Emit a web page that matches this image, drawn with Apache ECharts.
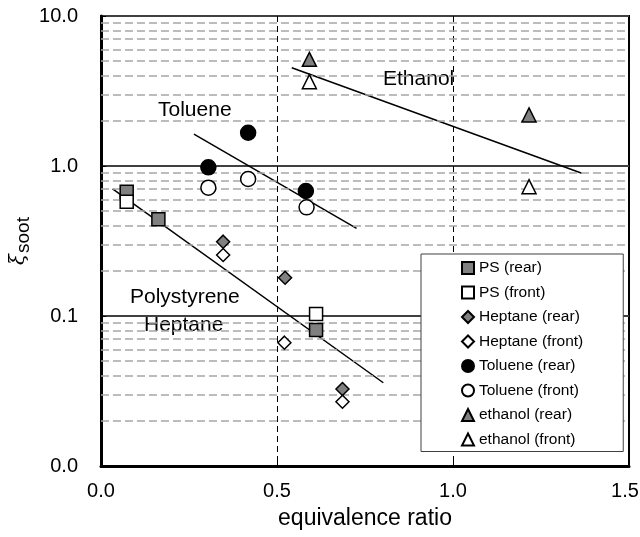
<!DOCTYPE html>
<html lang="en">
<head>
<meta charset="UTF-8">
<title>soot vs equivalence ratio</title>
<script src="https://cdn.jsdelivr.net/npm/echarts@6/dist/echarts.min.js"></script>
<style>
    html, body { margin: 0; padding: 0; background: #fff; }
    #main { width: 640px; height: 537px; }
</style>
</head>
<body>
<div id="main"></div>
<script>
    // measured points [equivalence ratio, xi_soot]
    var psRear = [[0.073, 0.674], [0.163, 0.441], [0.611, 0.0807]];
    var psFront = [[0.073, 0.578], [0.611, 0.103]];
    var heptaneRear = [[0.347, 0.313], [0.523, 0.180], [0.686, 0.0326]];
    var heptaneFront = [[0.347, 0.255], [0.521, 0.0664], [0.686, 0.0268]];
    var tolueneRear = [[0.305, 0.98], [0.418, 1.667], [0.582, 0.681]];
    var tolueneFront = [[0.305, 0.717], [0.418, 0.819], [0.584, 0.530]];
    var ethanolRear = [[0.592, 5.14], [1.216, 2.19]];
    var ethanolFront = [[0.592, 3.65], [1.216, 0.728]];

    // trend lines (end points)
    var fitPsHeptane = [[0.033, 0.703], [0.802, 0.0359]];
    var fitToluene = [[0.264, 1.63], [0.726, 0.384]];
    var fitEthanol = [[0.542, 4.52], [1.366, 0.894]];

    // minor grid lines of the log axis
    var minorLines = [0.02, 0.03, 0.04, 0.05, 0.06, 0.07, 0.08, 0.09,
                      0.2, 0.3, 0.4, 0.5, 0.6, 0.7, 0.8, 0.9,
                      2, 3, 4, 5, 6, 7, 8, 9];

    var FONT = 'Liberation Sans, Arial, sans-serif';
    var GRAY = '#808080';

    function scatter(name, data, symbol, size, fill) {
        return {
            name: name,
            type: 'scatter',
            data: data,
            symbol: symbol,
            symbolSize: size,
            itemStyle: { color: fill, borderColor: '#000', borderWidth: 1.5, opacity: 1 },
            z: 5
        };
    }

    function fit(data) {
        return {
            type: 'line',
            data: data,
            symbol: 'none',
            silent: true,
            lineStyle: { color: '#000', width: 1.5 },
            z: 3
        };
    }

    var minorSeries = fit(fitPsHeptane);
    minorSeries.markLine = {
        silent: true,
        symbol: ['none', 'none'],
        label: { show: false },
        animation: false,
        lineStyle: { color: '#a6a6a6', width: 1.5, type: [8, 4] },
        data: minorLines.map(function (v) { return { yAxis: v }; })
    };

    var myChart = echarts.init(document.getElementById('main'));
    var option = {
        animation: false,
        grid: {
            left: 101, top: 16, width: 528, height: 450,
            outerBoundsMode: 'none',
            containLabel: false,
            show: true, borderColor: '#000', borderWidth: 2
        },
        xAxis: {
            type: 'value',
            min: 0, max: 1.5, interval: 0.5,
            name: 'equivalence ratio',
            nameLocation: 'middle',
            nameGap: 41,
            nameMoveOverlap: false,
            nameTextStyle: { fontFamily: FONT, fontSize: 23, color: '#000' },
            axisLine: { show: true, lineStyle: { color: '#000', width: 3 } },
            axisTick: { show: true, inside: true, length: 5, lineStyle: { color: '#000', width: 1 } },
            axisLabel: {
                margin: 15, fontFamily: FONT, fontSize: 20, color: '#000',
                formatter: function (v) {
                    return v >= 1.5 ? '{r|' + v.toFixed(1) + '}' : v.toFixed(1);
                },
                rich: { r: { fontFamily: FONT, fontSize: 20, color: '#000', padding: [0, 8, 0, 0] } }
            },
            splitLine: { show: true, lineStyle: { color: '#000', width: 1, type: [6, 4] } }
        },
        yAxis: {
            type: 'log',
            logBase: 10,
            min: 0.01, max: 10,
            name: '{xi|ξ}{sub|soot}',
            nameLocation: 'middle',
            nameGap: 68,
            nameMoveOverlap: false,
            nameTextStyle: {
                fontFamily: FONT, color: '#000',
                rich: {
                    xi: { fontFamily: 'DejaVu Serif', fontSize: 20, fontStyle: 'italic', color: '#000' },
                    sub: { fontFamily: FONT, fontSize: 19, color: '#000', padding: [10, 0, 0, 1] }
                }
            },
            axisLine: { show: true, lineStyle: { color: '#000', width: 3 } },
            axisTick: { show: true, inside: true, length: 5, lineStyle: { color: '#000' } },
            axisLabel: {
                margin: 23, fontFamily: FONT, fontSize: 20, color: '#000',
                formatter: function (v) { return v.toFixed(1); }
            },
            splitLine: { show: true, lineStyle: { color: '#404040', width: 2 } }
        },
        legend: {
            orient: 'vertical',
            left: 421, top: 254,
            padding: [6, 40, 4, 40],
            itemGap: 8.5,
            itemWidth: 12, itemHeight: 12,
            backgroundColor: '#fff',
            borderColor: '#404040',
            borderWidth: 1,
            borderRadius: 0,
            textStyle: { fontFamily: FONT, fontSize: 15.5, color: '#000' },
            data: ['PS (rear)', 'PS (front)', 'Heptane (rear)', 'Heptane (front)',
                   'Toluene (rear)', 'Toluene (front)', 'ethanol (rear)', 'ethanol (front)'],
            z: 10
        },
        graphic: [
            { type: 'text', left: 158, top: 100, style: { text: 'Toluene', font: '21px ' + FONT, fill: '#000' } },
            { type: 'text', left: 383, top: 69, style: { text: 'Ethanol', font: '21px ' + FONT, fill: '#000' } },
            { type: 'text', left: 130, top: 287, style: { text: 'Polystyrene', font: '21px ' + FONT, fill: '#000' } },
            { type: 'text', left: 144, top: 315, style: { text: 'Heptane', font: '21px ' + FONT, fill: '#000' } }
        ],
        series: [
            minorSeries,
            fit(fitToluene),
            fit(fitEthanol),
            scatter('PS (rear)', psRear, 'rect', 13, GRAY),
            scatter('PS (front)', psFront, 'rect', 13, '#fff'),
            scatter('Heptane (rear)', heptaneRear, 'diamond', 13, GRAY),
            scatter('Heptane (front)', heptaneFront, 'diamond', 13, '#fff'),
            scatter('Toluene (rear)', tolueneRear, 'circle', 15, '#000'),
            scatter('Toluene (front)', tolueneFront, 'circle', 15, '#fff'),
            scatter('ethanol (rear)', ethanolRear, 'triangle', 14, GRAY),
            scatter('ethanol (front)', ethanolFront, 'triangle', 14, '#fff')
        ]
    };
    myChart.setOption(option);
</script>
</body>
</html>
